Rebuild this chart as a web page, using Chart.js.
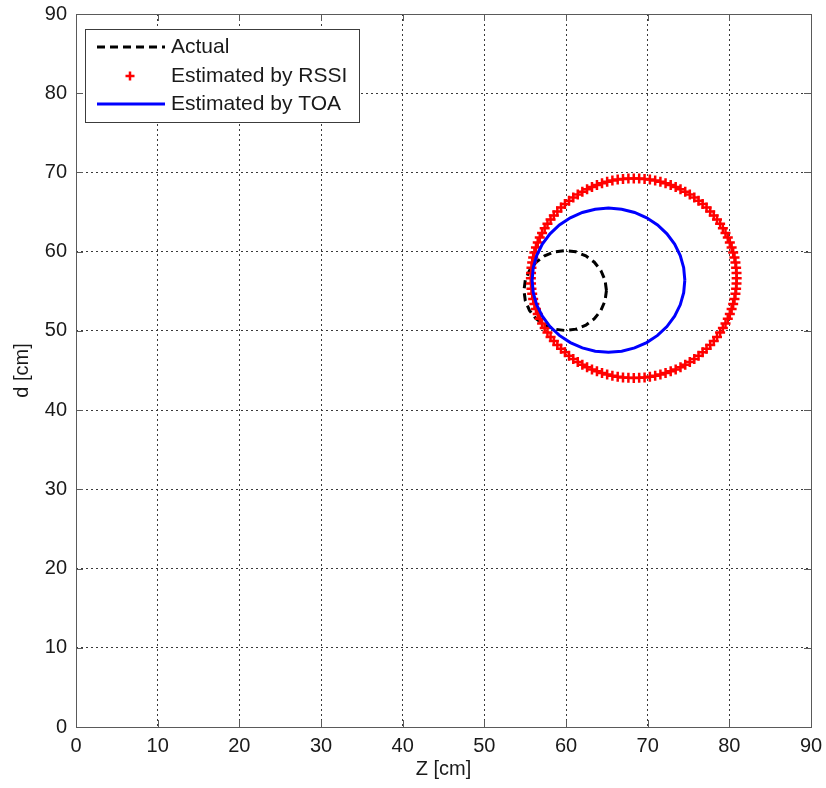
<!DOCTYPE html>
<html>
<head>
<meta charset="utf-8">
<title>Position estimate</title>
<script src="https://cdn.jsdelivr.net/npm/chart.js@4/dist/chart.umd.min.js"></script>
<style>
    html, body { margin: 0; padding: 0; background: #ffffff; }
    #plot { display: block; }
</style>
</head>
<body>
<canvas id="plot" width="826" height="788"></canvas>
<script>
/**
 * Actual vs. estimated trajectory (Z / d plane)
 * MATLAB-style axes: boxed, dotted grid, inner ticks
 */

// Axis ticks (both axes)
const axisTicks = [0, 10, 20, 30, 40, 50, 60, 70, 80, 90];

// Actual path
const actualZ = [64.95, 64.78, 64.27, 63.47, 62.43, 61.21, 59.90, 58.59, 57.38, 56.33, 55.53, 55.02,
    54.85, 55.02, 55.53, 56.33, 57.38, 58.59, 59.90, 61.21, 62.43, 63.47, 64.27, 64.78, 64.95];
const actualD = [55.10, 56.41, 57.63, 58.67, 59.47, 59.98, 60.15, 59.98, 59.47, 58.67, 57.63, 56.41,
    55.10, 53.79, 52.58, 51.53, 50.73, 50.22, 50.05, 50.22, 50.73, 51.53, 52.58, 53.79, 55.10];

// Estimated by RSSI
const rssiZ = [
    80.90, 80.88, 80.83, 80.75, 80.63, 80.47, 80.28, 80.06, 79.81, 79.53, 79.21, 78.87, 78.49, 78.09, 77.66,
    77.21, 76.73, 76.23, 75.71, 75.16, 74.60, 74.02, 73.43, 72.82, 72.19, 71.56, 70.92, 70.27, 69.62, 68.96,
    68.30, 67.64, 66.98, 66.33, 65.68, 65.04, 64.41, 63.79, 63.18, 62.58, 62.00, 61.44, 60.89, 60.37, 59.87,
    59.39, 58.94, 58.51, 58.11, 57.73, 57.39, 57.07, 56.79, 56.54, 56.32, 56.13, 55.98, 55.86, 55.77, 55.72,
    55.70, 55.72, 55.77, 55.86, 55.98, 56.13, 56.32, 56.54, 56.79, 57.07, 57.39, 57.73, 58.11, 58.51, 58.94,
    59.39, 59.87, 60.37, 60.89, 61.44, 62.00, 62.58, 63.18, 63.79, 64.41, 65.04, 65.68, 66.33, 66.98, 67.64,
    68.30, 68.96, 69.62, 70.27, 70.92, 71.56, 72.19, 72.82, 73.43, 74.02, 74.60, 75.16, 75.71, 76.23, 76.73,
    77.21, 77.66, 78.09, 78.49, 78.87, 79.21, 79.53, 79.81, 80.06, 80.28, 80.47, 80.63, 80.75, 80.83, 80.88
];
const rssiD = [
    56.65, 57.31, 57.97, 58.62, 59.27, 59.91, 60.54, 61.17, 61.78, 62.37, 62.95, 63.51, 64.06, 64.58, 65.08,
    65.56, 66.01, 66.44, 66.84, 67.22, 67.56, 67.88, 68.16, 68.41, 68.63, 68.82, 68.98, 69.10, 69.18, 69.23,
    69.25, 69.23, 69.18, 69.10, 68.98, 68.82, 68.63, 68.41, 68.16, 67.88, 67.56, 67.22, 66.84, 66.44, 66.01,
    65.56, 65.08, 64.58, 64.06, 63.51, 62.95, 62.37, 61.78, 61.17, 60.54, 59.91, 59.27, 58.62, 57.97, 57.31,
    56.65, 55.99, 55.33, 54.68, 54.03, 53.39, 52.76, 52.14, 51.53, 50.93, 50.35, 49.79, 49.24, 48.72, 48.22,
    47.74, 47.29, 46.86, 46.46, 46.08, 45.74, 45.42, 45.14, 44.89, 44.67, 44.48, 44.33, 44.21, 44.12, 44.07,
    44.05, 44.07, 44.12, 44.21, 44.33, 44.48, 44.67, 44.89, 45.14, 45.42, 45.74, 46.08, 46.46, 46.86, 47.29,
    47.74, 48.22, 48.72, 49.24, 49.79, 50.35, 50.93, 51.53, 52.14, 52.76, 53.39, 54.03, 54.68, 55.33, 55.99
];

// Estimated by TOA
const toaZ = [74.55, 74.41, 73.99, 73.30, 72.36, 71.21, 69.88, 68.40, 66.82, 65.20, 63.58, 62.00, 60.53,
    59.19, 58.04, 57.10, 56.41, 55.99, 55.85, 55.99, 56.41, 57.10, 58.04, 59.19, 60.53, 62.00, 63.58,
    65.20, 66.82, 68.40, 69.88, 71.21, 72.36, 73.30, 73.99, 74.41, 74.55];
const toaD = [56.40, 57.98, 59.51, 60.95, 62.25, 63.37, 64.28, 64.95, 65.36, 65.50, 65.36, 64.95, 64.28,
    63.37, 62.25, 60.95, 59.51, 57.98, 56.40, 54.82, 53.29, 51.85, 50.55, 49.43, 48.52, 47.85, 47.44,
    47.30, 47.44, 47.85, 48.52, 49.43, 50.55, 51.85, 53.29, 54.82, 56.40];

const FONT = "'Liberation Sans', Arial, sans-serif";
const TEXT_COLOR = '#1a1a1a';
const FRAME_COLOR = '#5a5a5a';

function toPoints(xs, ys) {
    return xs.map((x, i) => ({ x: x, y: ys[i] }));
}

/**
 * Box around the plot area with short inward ticks on every side
 */
const frameBox = {
    id: 'frameBox',
    afterDatasetsDraw(chart) {
        const { ctx, chartArea: a, scales } = chart;
        const len = 7;
        ctx.save();
        ctx.strokeStyle = FRAME_COLOR;
        ctx.lineWidth = 1;
        ctx.setLineDash([]);
        ctx.beginPath();
        axisTicks.forEach(v => {
            const px = Math.round(scales.x.getPixelForValue(v)) + 0.5;
            const py = Math.round(scales.y.getPixelForValue(v)) + 0.5;
            ctx.moveTo(px, a.bottom); ctx.lineTo(px, a.bottom - len);
            ctx.moveTo(px, a.top); ctx.lineTo(px, a.top + len);
            ctx.moveTo(a.left, py); ctx.lineTo(a.left + len, py);
            ctx.moveTo(a.right, py); ctx.lineTo(a.right - len, py);
        });
        ctx.stroke();
        ctx.strokeRect(Math.round(a.left) + 0.5, Math.round(a.top) + 0.5,
            Math.round(a.right - a.left), Math.round(a.bottom - a.top));
        ctx.restore();
    }
};

/**
 * Legend box in the upper left corner, line samples like MATLAB
 */
const boxLegend = {
    id: 'boxLegend',
    afterDraw(chart) {
        const { ctx, chartArea: a } = chart;
        const x0 = a.left + 9, y0 = a.top + 15;
        const w = 274, h = 93;
        ctx.save();
        ctx.fillStyle = '#ffffff';
        ctx.fillRect(x0, y0, w, h);
        ctx.strokeStyle = '#3c3c3c';
        ctx.lineWidth = 1;
        ctx.strokeRect(x0 + 0.5, y0 + 0.5, w, h);

        const rows = [18, 47, 75];
        chart.data.datasets.forEach((ds, i) => {
            const cy = y0 + rows[i];
            if (ds.showLine) {
                ctx.strokeStyle = ds.borderColor;
                ctx.lineWidth = ds.borderWidth;
                ctx.setLineDash(ds.borderDash || []);
                ctx.beginPath();
                ctx.moveTo(x0 + 12, cy);
                ctx.lineTo(x0 + 80, cy);
                ctx.stroke();
                ctx.setLineDash([]);
            } else {
                const cx = x0 + 45;
                ctx.strokeStyle = ds.borderColor;
                ctx.lineWidth = 2.5;
                ctx.beginPath();
                ctx.moveTo(cx - 4.5, cy); ctx.lineTo(cx + 4.5, cy);
                ctx.moveTo(cx, cy - 4.5); ctx.lineTo(cx, cy + 4.5);
                ctx.stroke();
            }
            ctx.fillStyle = TEXT_COLOR;
            ctx.font = '21px ' + FONT;
            ctx.textBaseline = 'middle';
            ctx.textAlign = 'left';
            ctx.fillText(ds.label, x0 + 86, cy);
        });
        ctx.restore();
    }
};

function renderPlot() {
    const ctx = document.getElementById('plot').getContext('2d');

    const axisCommon = {
        type: 'linear',
        min: 0,
        max: 90,
        border: { display: false, dash: [2, 3] },
        grid: { color: '#3a3a3a', lineWidth: 1, drawTicks: false },
        afterBuildTicks: scale => {
            scale.ticks = axisTicks.map(v => ({ value: v }));
        }
    };

    new Chart(ctx, {
        type: 'scatter',
        data: {
            datasets: [
                {
                    label: 'Actual',
                    data: toPoints(actualZ, actualD),
                    showLine: true,
                    borderColor: '#000000',
                    borderWidth: 3,
                    borderDash: [8, 5],
                    pointRadius: 0,
                    tension: 0,
                    order: 3
                },
                {
                    label: 'Estimated by RSSI',
                    data: toPoints(rssiZ, rssiD),
                    showLine: false,
                    pointStyle: 'cross',
                    pointRadius: 5,
                    borderColor: '#ff0000',
                    backgroundColor: '#ff0000',
                    borderWidth: 2.5,
                    order: 2
                },
                {
                    label: 'Estimated by TOA',
                    data: toPoints(toaZ, toaD),
                    showLine: true,
                    borderColor: '#0000ff',
                    borderWidth: 3,
                    pointRadius: 0,
                    tension: 0,
                    order: 1
                }
            ]
        },
        options: {
            responsive: false,
            animation: false,
            layout: { padding: { left: 0, right: 15, top: 14, bottom: 0 } },
            plugins: {
                legend: { display: false },
                tooltip: { enabled: false }
            },
            scales: {
                x: Object.assign({}, axisCommon, {
                    position: 'bottom',
                    ticks: {
                        autoSkip: false,
                        maxRotation: 0,
                        padding: 7,
                        color: TEXT_COLOR,
                        font: { family: FONT, size: 20 }
                    },
                    title: {
                        display: true,
                        text: 'Z [cm]',
                        color: TEXT_COLOR,
                        font: { family: FONT, size: 20 },
                        padding: { top: 0, bottom: 7 }
                    },
                    afterFit: scale => {
                        scale.height = 61;
                        scale.paddingLeft = 0;
                        scale.paddingRight = 0;
                    }
                }),
                y: Object.assign({}, axisCommon, {
                    position: 'left',
                    ticks: {
                        autoSkip: false,
                        padding: 9,
                        color: TEXT_COLOR,
                        font: { family: FONT, size: 20 }
                    },
                    title: {
                        display: true,
                        text: 'd [cm]',
                        color: TEXT_COLOR,
                        font: { family: FONT, size: 20 },
                        padding: { top: 10, bottom: 0 }
                    },
                    afterFit: scale => {
                        scale.width = 76;
                        scale.paddingTop = 0;
                        scale.paddingBottom = 0;
                    }
                })
            }
        },
        plugins: [frameBox, boxLegend]
    });
}

renderPlot();
</script>
</body>
</html>
